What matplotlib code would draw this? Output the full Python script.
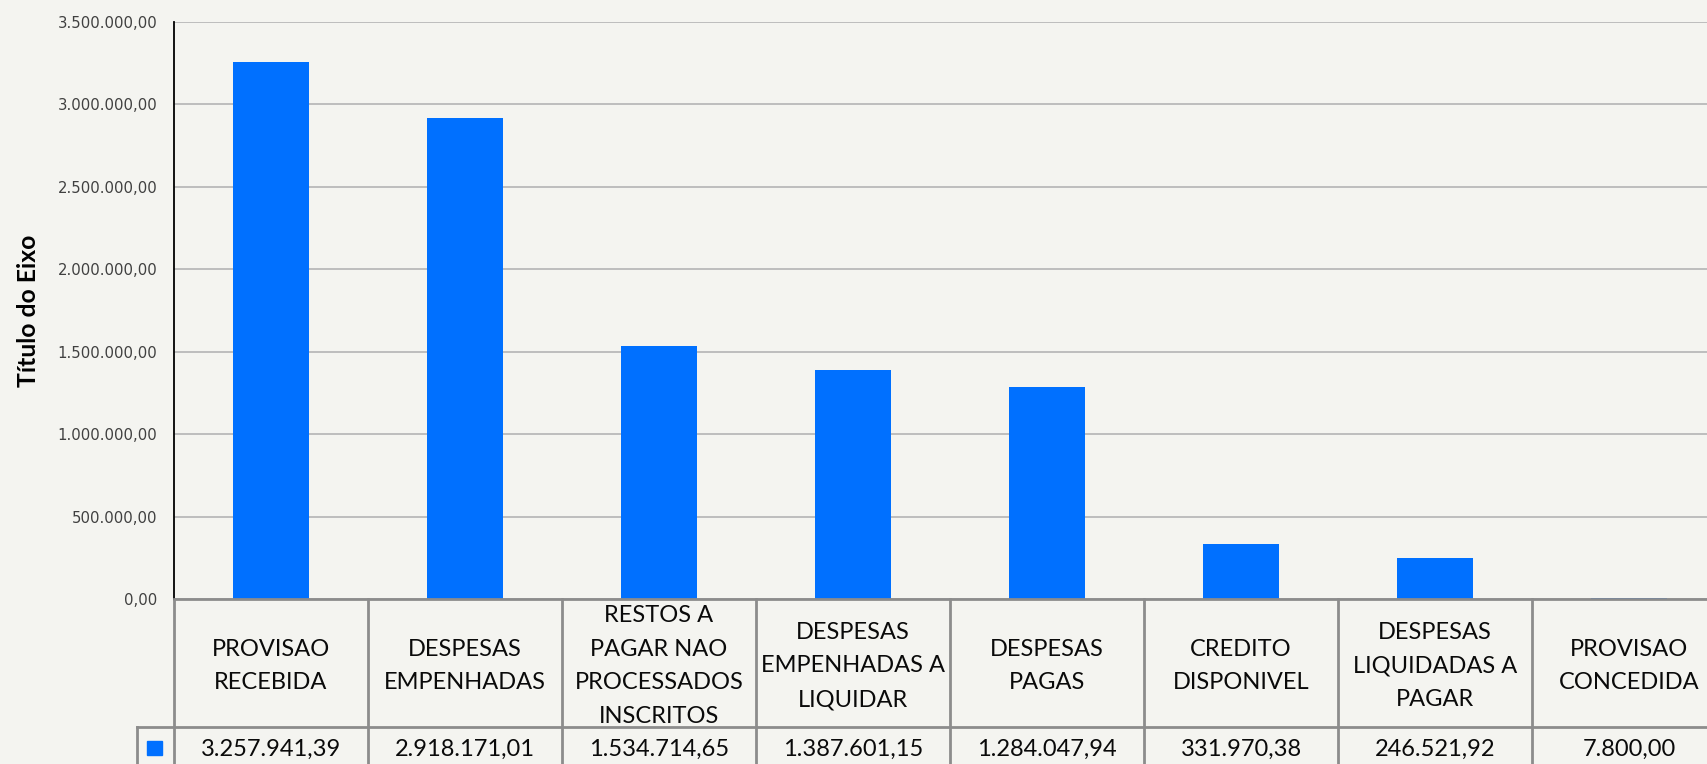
import matplotlib.pyplot as plt
import matplotlib.transforms as mtransforms
from matplotlib.ticker import FuncFormatter

categories = ['PROVISAO\nRECEBIDA', 'DESPESAS\nEMPENHADAS', 'RESTOS A\nPAGAR NAO\nPROCESSADOS\nINSCRITOS',
              'DESPESAS\nEMPENHADAS A\nLIQUIDAR', 'DESPESAS\nPAGAS', 'CREDITO\nDISPONIVEL',
              'DESPESAS\nLIQUIDADAS A\nPAGAR', 'PROVISAO\nCONCEDIDA']
values = [3257941.39, 2918171.01, 1534714.65, 1387601.15, 1284047.94, 331970.38, 246521.92, 7800.00]
y_ticks = [0, 500000, 1000000, 1500000, 2000000, 2500000, 3000000, 3500000]

bg = '#f4f4f0'
bar_color = '#0070ff'
line_gray = '#8c8c8c'


def br_fmt(v, pos=None):
    s = '{:,.2f}'.format(v)
    return s.replace(',', 'X').replace('.', ',').replace('X', '.')


W, H = 1707, 764
fig = plt.figure(figsize=(W / 100, H / 100), dpi=100, facecolor=bg)

# axes goes past the right edge, the original chart is cut off there
x0, x_right, y_top, y_zero = 174, 1726, 22, 599
ax = fig.add_axes([x0 / W, (H - y_zero) / H, (x_right - x0) / W, (y_zero - y_top) / H])
ax.set_facecolor(bg)

x = list(range(len(values)))
ax.bar(x, values, width=0.39, color=bar_color, zorder=2)
ax.set_xlim(-0.5, len(values) - 0.5)
ax.set_ylim(0, 3500000)
ax.set_yticks(y_ticks)
ax.yaxis.set_major_formatter(FuncFormatter(br_fmt))
ax.tick_params(axis='y', length=0, pad=12, labelsize=10.7, labelcolor='#404040')
ax.tick_params(axis='x', length=0, labelbottom=False)
ax.grid(axis='y', color='#b4b4b4', linewidth=1.2, zorder=1)
for s in ['top', 'right']:
    ax.spines[s].set_visible(False)
ax.spines['left'].set_color('black')
ax.spines['left'].set_linewidth(1.3)
ax.spines['bottom'].set_color(line_gray)
ax.spines['bottom'].set_linewidth(2)
ax.spines['bottom'].set_zorder(3)

ax.set_ylabel('Título do Eixo', family='Lato', fontweight='bold', fontsize=17.8)
ax.yaxis.set_label_coords(-(174 - 40) / (x_right - x0), 0.5)

# data table under the plot: x in data units, y in axes units
trans = mtransforms.blended_transform_factory(ax.transData, ax.transAxes)
ax_h = y_zero - y_top
hdr_bot = -(727 - y_zero) / ax_h
row_bot = -(800 - y_zero) / ax_h
key_left = (137 - x0) / ((x_right - x0) / len(values)) - 0.5

lkw = dict(color=line_gray, linewidth=2, transform=trans, clip_on=False)
for i in range(len(values) + 1):
    ax.plot([i - 0.5, i - 0.5], [0, row_bot], **lkw)
ax.plot([key_left, len(values) - 0.5], [hdr_bot, hdr_bot], **lkw)
ax.plot([key_left, key_left], [hdr_bot, row_bot], **lkw)

hdr_mid = -(666 - y_zero) / ax_h
row_mid = -(749 - y_zero) / ax_h
for i, (c, v) in enumerate(zip(categories, values)):
    ax.text(i, hdr_mid, c, transform=trans, ha='center', va='center', family='Lato',
            fontsize=17, linespacing=1.75, color='#0a0a0a', clip_on=False)
    ax.text(i, row_mid, br_fmt(v), transform=trans, ha='center', va='center', family='Lato',
            fontsize=17, color='#0a0a0a', clip_on=False)

fig.patches.append(plt.Rectangle((147 / W, (H - 755) / H), 15 / W, 14 / H,
                                 transform=fig.transFigure, color=bar_color))

fig.savefig('out.png', dpi=100, facecolor=bg)
